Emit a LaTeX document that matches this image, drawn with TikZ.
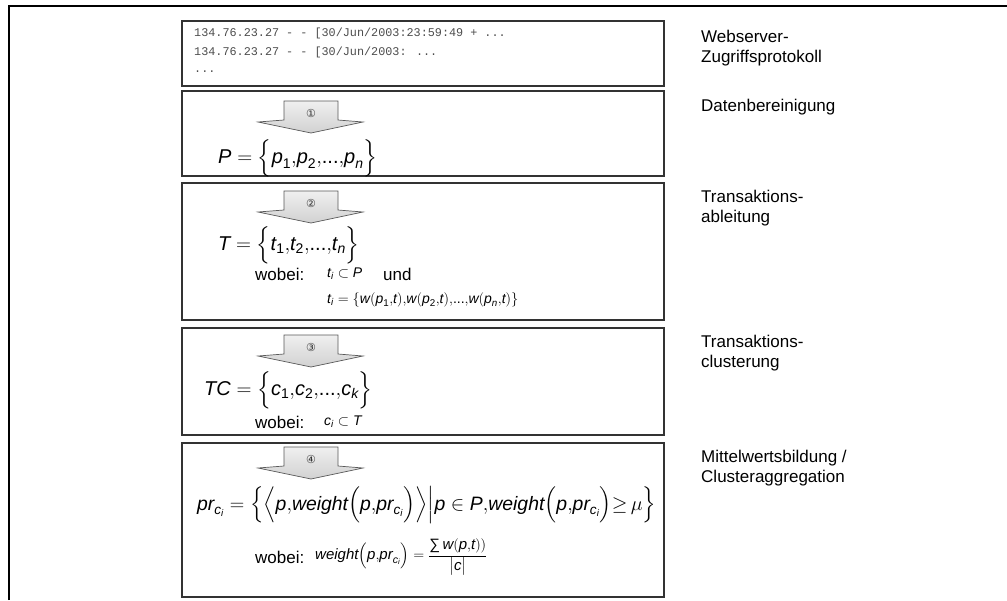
\documentclass[tikz,border=0pt]{standalone}
\usepackage{amsmath}
\usepackage{graphicx}
\usepackage{fontspec}
\setmainfont{Liberation Sans}
\newfontfamily\logfont{Liberation Mono}
\newfontfamily\circfont{DejaVu Sans}
\newcommand{\vi}[1]{\text{\itshape #1}}
\newcommand{\vu}[1]{\text{\upshape #1}}
\newcommand{\cm}{\mathord{,}}
\newcommand{\dts}{\text{...}}
\newcommand{\prc}{\vi{pr}_{\vi{c}_{\vi{i}}}}
\tikzset{
  frameline/.style={line width=1.3pt, black},
  stage/.style={draw=black!80, line width=1.2pt},
  arrowshape/.style={draw=black!65, top color=black!6, bottom color=black!18, line width=0.7pt},
  lbl/.style={anchor=west, align=left, inner sep=0pt, font=\fontsize{17}{20}\selectfont},
  logt/.style={anchor=west, inner sep=0pt, text=black!70, font=\logfont\fontsize{11.8}{14}\selectfont},
  num/.style={inner sep=0pt, text=black!80, font=\circfont\fontsize{11}{13}\selectfont},
  fml/.style={anchor=west, inner sep=0pt, font=\fontsize{20}{24}\selectfont},
  sfml/.style={anchor=west, inner sep=0pt, font=\fontsize{14}{17}\selectfont},
  mfml/.style={anchor=west, inner sep=0pt, font=\fontsize{15}{18}\selectfont},
  wob/.style={anchor=west, inner sep=0pt, font=\fontsize{17}{20}\selectfont},
  downarrow/.pic={\draw[arrowshape] (-27,0) -- (27,0) -- (27,19) -- (52,21) -- (0,32) -- (-53,21) -- (-27,19) -- cycle;}
}
\begin{document}
\begin{tikzpicture}[x=1pt,y=-1pt]
\useasboundingbox (0,0) rectangle (1007,600);
% outer frame (cropped)
\draw[frameline] (9,600) -- (9,6) -- (1007,6);
% stage boxes
\draw[stage] (182,21) rectangle (664,86);
\draw[stage] (182,91) rectangle (664,176);
\draw[stage] (182,183) rectangle (664,320);
\draw[stage] (182,328) rectangle (664,435);
\draw[stage] (182,443) rectangle (664,597);
% log lines
\node[logt] (log1) at (194,33) {134.76.23.27 - - [30/Jun/2003:23:59:49 + ...};
\node[logt] (log2) at (194,52.5) {134.76.23.27 - - [30/Jun/2003: ...};
\node[logt] (log3) at (194,72) {...};
% arrows
\pic at (311,101) {downarrow};
\node[num] (n1) at (311,113) {①};
\pic at (311,191) {downarrow};
\node[num] (n2) at (311,203) {②};
\pic at (311,335) {downarrow};
\node[num] (n3) at (311,347) {③};
\pic at (311,447) {downarrow};
\node[num] (n4) at (311,459) {④};
% formulas
\node[fml] (fP) at (218,158) {$\vi{P} = \Bigl\{\vi{p}_{\vu{1}}\cm\vi{p}_{\vu{2}}\cm\dts\cm\vi{p}_{\vi{n}}\Bigr\}$};
\node[fml] (fT) at (218,245) {$\vi{T} = \Bigl\{\vi{t}_{\vu{1}}\cm\vi{t}_{\vu{2}}\cm\dts\cm\vi{t}_{\vi{n}}\Bigr\}$};
\node[wob] (w3) at (255,274) {wobei:};
\node[sfml] (f3a) at (327,274) {$\vi{t}_{\vi{i}} \subset \vi{P}$};
\node[wob] (und) at (383,274) {und};
\node[sfml] (f3b) at (327,299.5) {$\vi{t}_{\vi{i}} = \{\vi{w}(\vi{p}_{\vu{1}}\cm\vi{t})\cm\vi{w}(\vi{p}_{\vu{2}}\cm\vi{t})\cm\dts\cm\vi{w}(\vi{p}_{\vi{n}}\cm\vi{t})\}$};
\node[fml] (fTC) at (204,390) {$\vi{TC} = \Bigl\{\vi{c}_{\vu{1}}\cm\vi{c}_{\vu{2}}\cm\dts\cm\vi{c}_{\vi{k}}\Bigr\}$};
\node[wob] (w4) at (255,422) {wobei:};
\node[sfml] (f4) at (324,422) {$\vi{c}_{\vi{i}} \subset \vi{T}$};
\node[fml] (fpr) at (197,505) {\resizebox{459pt}{!}{$\prc = \Bigl\{\Bigl\langle \vi{p}\cm\vi{weight}\Bigl(\vi{p}\cm\prc\Bigr)\Bigr\rangle\Bigr|\vi{p}\in \vi{P}\cm\vi{weight}\Bigl(\vi{p}\cm\prc\Bigr)\mathord{\geq}\,\mu\Bigr\}$}};
\node[wob] (w5) at (255,557) {wobei:};
\node[mfml] (f5) at (315,557) {$\vi{weight}\Bigl(\vi{p}\cm\prc\Bigr) = \dfrac{\text{∑}\,\vi{w}(\vi{p}\cm\vi{t}))}{\bigl|\vi{c}\bigr|}$};
% stage labels
\node[lbl] (l1) at (701,48) {Webserver-\\Zugriffsprotokoll};
\node[lbl] (l2) at (701,107) {Datenbereinigung};
\node[lbl] (l3) at (701,208.5) {Transaktions-\\ableitung};
\node[lbl] (l4) at (701,353.5) {Transaktions-\\clusterung};
\node[lbl] (l5) at (701,468) {Mittelwertsbildung /\\Clusteraggregation};
\end{tikzpicture}
\end{document}
